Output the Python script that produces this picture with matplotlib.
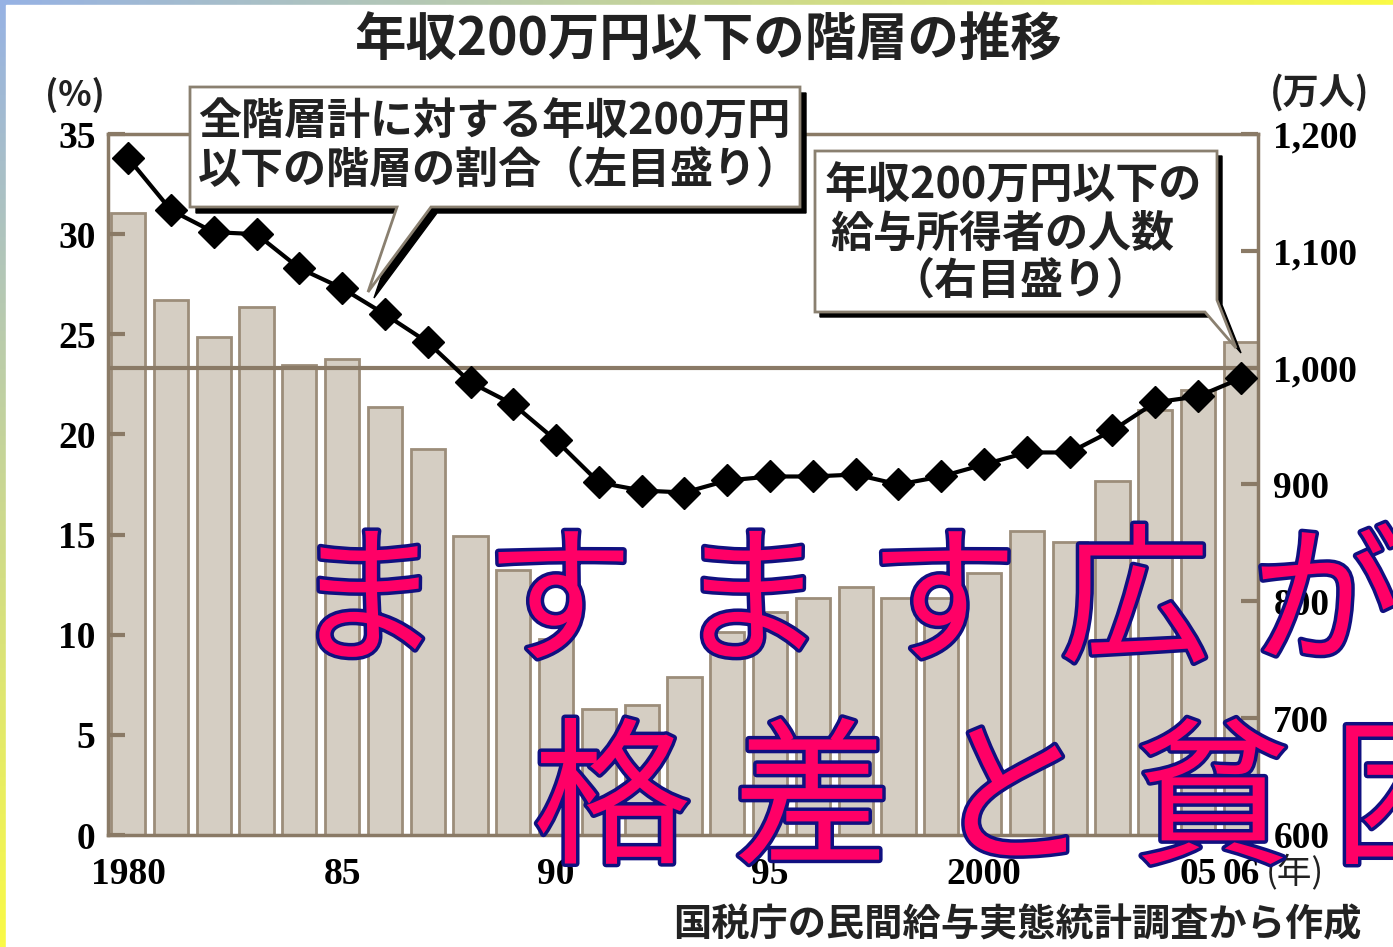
import numpy as np
import matplotlib
matplotlib.use("Agg")
import matplotlib.pyplot as plt
import matplotlib.patheffects as pe
from matplotlib.patches import Polygon, Rectangle

plt.rcParams['font.family'] = ['Noto Sans CJK JP', 'DejaVu Sans']

# data
years = list(range(1980, 2007))
# 年収200万円以下の給与所得者の人数 (万人, right axis)
workers = [1132, 1058, 1026, 1052, 1002, 1007, 966, 930, 856, 827,
           768, 708, 711, 735, 774, 791, 803, 812, 803, 803,
           824, 860, 851, 903, 964, 981, 1022]
# 全階層計に対する割合 (%, left axis)
share = [33.8, 31.2, 30.1, 30.0, 28.3, 27.3, 26.0, 24.6, 22.6, 21.5,
         19.7, 17.6, 17.2, 17.1, 17.7, 17.9, 17.9, 18.0, 17.5, 17.9,
         18.5, 19.1, 19.1, 20.2, 21.6, 21.9, 22.8]
xtick_pos = [1980, 1985, 1990, 1995, 2000, 2005, 2006]
xtick_lab = ['1980', '85', '90', '95', '2000', '05', '06']
left_ticks = [0, 5, 10, 15, 20, 25, 30, 35]
right_ticks = [600, 700, 800, 900, 1000, 1100, 1200]
slogan1 = 'ますます広がる'
slogan2 = '格差と貧困'

W, H = 1393, 947
brown = '#8a7a66'
numfont = dict(family='Liberation Serif', weight='bold', size=27)

fig = plt.figure(figsize=(W / 100, H / 100), dpi=100)

# gradient border in the background
bg = fig.add_axes([0, 0, 1, 1])
bg.set_zorder(0)
xx, yy = np.meshgrid(np.linspace(0, 1, 200), np.linspace(0, 1, 200))
t = np.clip(xx + yy, 0, 1)[..., None]
blue = np.array([150, 178, 228]) / 255
yellow = np.array([250, 250, 70]) / 255
bg.imshow(blue * (1 - t) + yellow * t, extent=(0, W, H, 0), aspect='auto')
bg.add_patch(Rectangle((6, 5), W, H, color='white'))
bg.set_xlim(0, W)
bg.set_ylim(H, 0)
bg.axis('off')

# main chart: bars on the right scale, line on the left scale
ax = fig.add_axes([108 / W, 1 - 835 / H, 1150 / W, 701 / H])
ax.set_zorder(1)
ax.patch.set_alpha(0)
ax.bar(years, np.array(workers) - 600, bottom=600, width=0.8,
       color='#d5cec3', edgecolor='#9c8d7a', linewidth=2)
ax.axhline(1000, color=brown, lw=3)
ax.set_ylim(600, 1200)
ax.set_xlim(1979.53, 2006.4)
ax.set_xticks(xtick_pos)
ax.set_xticklabels(xtick_lab, **numfont)
ax.tick_params(axis='x', length=0, pad=16)
for s in ax.spines.values():
    s.set_color(brown)
    s.set_linewidth(2.5)

ax2 = ax.twinx()
ax2.plot(years, share, color='black', lw=3, marker='D', markersize=16)
ax2.set_ylim(0, 35)
for s in ax2.spines.values():
    s.set_visible(False)

# twinx moves the ticks, so set the sides afterwards
ax.yaxis.tick_right()
ax.set_yticks(right_ticks)
ax.set_yticklabels([f'{v:,}' for v in right_ticks], **numfont)
ax.tick_params(axis='y', direction='in', length=12, width=3, color=brown, pad=11)
ax2.yaxis.tick_left()
ax2.set_yticks(left_ticks)
ax2.set_yticklabels([str(v) for v in left_ticks], **numfont)
ax2.tick_params(axis='y', direction='in', length=12, width=3, color=brown, pad=9)

# overlay in pixel coordinates for titles and callouts
ov = fig.add_axes([0, 0, 1, 1])
ov.set_zorder(5)
ov.patch.set_alpha(0)
ov.set_xlim(0, W)
ov.set_ylim(H, 0)
ov.axis('off')

ov.text(708, 40, '年収200万円以下の階層の推移', ha='center', va='center',
        fontsize=37, weight='bold', color='#222')
ov.text(75, 95, '(%)', ha='center', va='center', fontsize=25, weight='bold', color='#222')
ov.text(1320, 93, '(万人)', ha='center', va='center', fontsize=26, weight='bold', color='#222')
ov.text(1266, 873, '(年)', ha='left', va='center', fontsize=25, color='#222')
ov.text(1362, 925, '国税庁の民間給与実態統計調査から作成', ha='right', va='center',
        fontsize=27.5, weight='bold', color='#222')


def callout(pts, off=6):
    sh = [(x + off, y + off) for x, y in pts]
    ov.add_patch(Polygon(sh, closed=True, facecolor='black', edgecolor='black'))
    ov.add_patch(Polygon(pts, closed=True, facecolor='white', edgecolor='#8a8070', lw=2))


callout([(190, 87), (800, 87), (800, 207), (431, 207), (368, 292),
         (397, 207), (190, 207)])
ov.text(198, 122, '全階層計に対する年収200万円', ha='left', va='center',
        fontsize=31, weight='bold', color='#222')
ov.text(198, 170, '以下の階層の割合（左目盛り）', ha='left', va='center',
        fontsize=31, weight='bold', color='#222')

callout([(815, 151), (1217, 151), (1217, 300), (1236, 348), (1205, 312),
         (815, 312)], off=5)
ov.text(824, 186, '年収200万円以下の', ha='left', va='center',
        fontsize=31, weight='bold', color='#222')
ov.text(830, 234, '給与所得者の人数', ha='left', va='center',
        fontsize=31, weight='bold', color='#222')
ov.text(1020, 281, '（右目盛り）', ha='center', va='center',
        fontsize=31, weight='bold', color='#222')

# big overlay slogan, spread out letter by letter like the wide lettering
stroke = [pe.withStroke(linewidth=5, foreground='#101080')]
for i, ch in enumerate(slogan1):
    ov.text(367 + 192 * i, 650, ch, ha='center', va='baseline', fontsize=108,
            color='#ff0066', path_effects=stroke)
for i, ch in enumerate(slogan2):
    ov.text(612 + 200 * i, 851, ch, ha='center', va='baseline', fontsize=114,
            color='#ff0066', path_effects=stroke)

fig.savefig('out.png', dpi=100)
